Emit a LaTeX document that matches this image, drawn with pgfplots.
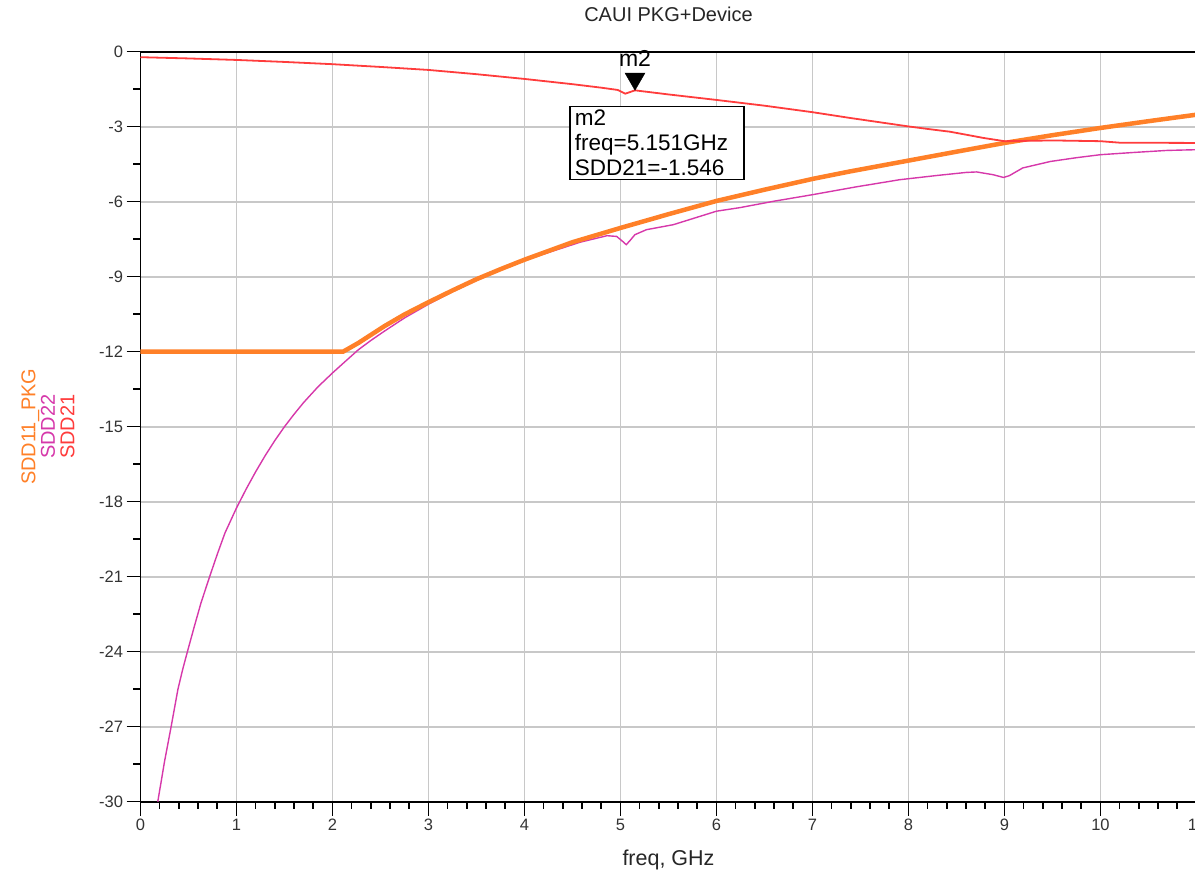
\documentclass[border=0pt]{standalone}
\usepackage{fontspec}
\setmainfont{Liberation Sans}
\usepackage{pgfplots}
\pgfplotsset{compat=1.18}
\definecolor{sddred}{RGB}{255,60,60}
\definecolor{sddmag}{RGB}{214,56,170}
\definecolor{sddorange}{RGB}{255,128,40}
\definecolor{gridgray}{RGB}{200,200,200}

\begin{document}
\begin{tikzpicture}
\begin{axis}[
  scale only axis,
  width=1056pt, height=750pt,
  xmin=0, xmax=11, ymin=-30, ymax=0,
  xtick={0,1,...,11}, ytick={-30,-27,...,0},
  minor x tick num=4, minor y tick num=1,
  tick pos=left, tick align=outside,
  major tick length=14pt, minor tick length=7pt,
  every tick/.style={black, line width=1.6pt},
  axis line style={black, line width=1.8pt},
  grid=major, major grid style={gridgray, line width=1.8pt},
  /pgf/number format/assume math mode=true,
  tick label style={font=\fontsize{16.5}{19}\selectfont, color=black!80},
  title={CAUI PKG+Device},
  title style={at={(axis description cs:0.5,1)}, anchor=base, yshift=24pt,
    font=\fontsize{20}{24}\selectfont, color=black!85},
  xlabel={freq, GHz},
  xlabel style={at={(axis description cs:0.5,0)}, anchor=base, yshift=-64pt,
    font=\fontsize{21.5}{24}\selectfont, color=black!85},
  clip mode=individual,
]
% SDD22
\addplot[color=sddmag, line width=1.4pt] coordinates {
  (0.18,-30)(0.25,-28.4)(0.32,-26.98)(0.39,-25.5)(0.44,-24.7)(0.49,-23.98)
  (0.56,-23.0)(0.63,-22.05)(0.72,-21.0)(0.8,-20.1)(0.88,-19.25)(1.0,-18.25)
  (1.1,-17.5)(1.2,-16.8)(1.3,-16.15)(1.4,-15.55)(1.5,-15.0)(1.6,-14.5)
  (1.7,-14.03)(1.85,-13.4)(2.0,-12.85)(2.13,-12.4)(2.27,-11.92)(2.4,-11.55)
  (2.54,-11.18)(2.75,-10.65)(3.0,-10.1)(3.25,-9.6)(3.5,-9.15)(3.75,-8.73)
  (4.0,-8.35)(4.3,-7.97)(4.58,-7.62)(4.86,-7.36)(4.96,-7.39)(5.02,-7.58)
  (5.06,-7.72)(5.1,-7.55)(5.15,-7.32)(5.27,-7.12)(5.55,-6.92)(5.8,-6.62)
  (6.0,-6.38)(6.24,-6.24)(6.6,-5.98)(7.0,-5.72)(7.45,-5.41)(7.91,-5.12)
  (8.3,-4.95)(8.6,-4.83)(8.71,-4.81)(8.88,-4.92)(8.99,-5.03)(9.05,-4.96)
  (9.19,-4.65)(9.48,-4.39)(9.75,-4.24)(10,-4.12)(10.35,-4.03)(10.69,-3.95)(11,-3.92)
};
% SDD11_PKG
\addplot[color=sddorange, line width=4.5pt] coordinates {
  (0,-12)(2.11,-12)(2.27,-11.65)(2.54,-10.98)(2.75,-10.51)(3.0,-10.02)
  (3.25,-9.55)(3.5,-9.1)(3.75,-8.7)(4.0,-8.32)(4.5,-7.62)(5.0,-7.05)(5.5,-6.5)
  (6.0,-5.97)(6.5,-5.52)(7.0,-5.09)(7.39,-4.79)(7.91,-4.42)(8.5,-4.0)(9.0,-3.65)
  (9.5,-3.34)(10,-3.05)(10.5,-2.78)(11,-2.52)
};
% SDD21
\addplot[color=sddred, line width=1.8pt] coordinates {
  (0,-0.22)(0.5,-0.27)(1,-0.33)(1.5,-0.41)(2,-0.5)(2.5,-0.61)(3,-0.73)
  (3.5,-0.9)(4,-1.09)(4.5,-1.3)(4.8,-1.44)(4.97,-1.53)(5.05,-1.68)(5.151,-1.546)
  (5.5,-1.71)(6,-1.93)(6.5,-2.16)(7,-2.42)(7.39,-2.65)(8,-2.99)(8.2,-3.09)
  (8.43,-3.2)(8.6,-3.32)(8.78,-3.45)(9,-3.58)(9.5,-3.55)(10,-3.58)(10.2,-3.64)(11,-3.65)
};
% marker m2
\addplot[only marks, mark=triangle*, mark size=11.5pt, color=black,
  mark options={yshift=11.5pt, rotate=180}] coordinates {(5.151,-1.546)};
\node[anchor=base, font=\fontsize{23}{26}\selectfont] at (axis cs:5.151,-1.546) [yshift=24pt] {m2};
\node[draw=black, line width=1.3pt, anchor=north west, align=left,
  text width=164pt, inner xsep=5pt, inner ysep=3.5pt, fill=white,
  font=\fontsize{22.5}{25}\selectfont] at (axis cs:4.467,-2.172)
  {m2\\freq=5.151GHz\\SDD21=-1.546};
\end{axis}
\node[rotate=90, align=center, font=\fontsize{20}{19.5}\selectfont] at (-92.5pt,375pt)
  {\textcolor{sddorange}{SDD11\_PKG}\\\textcolor{sddmag}{SDD22}\\\textcolor{sddred}{SDD21}};
\pgfresetboundingbox
\path[use as bounding box] (-140.5pt,-73.3pt) rectangle (1054.5pt,801.7pt);
\end{tikzpicture}
\end{document}
